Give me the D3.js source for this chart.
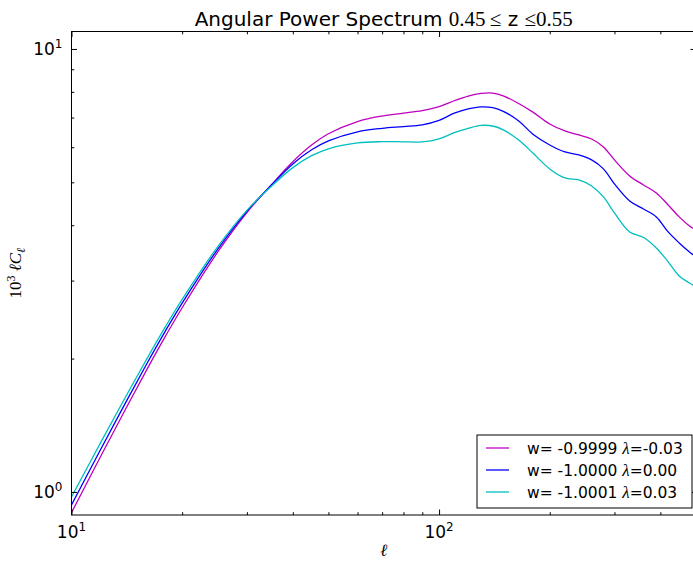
<!DOCTYPE html>
<html>
<head>
<meta charset="utf-8">
<script src="https://cdn.jsdelivr.net/npm/d3@7"></script>
<style>
  body { margin: 0; background: #fff; }
  svg { display: block; }
</style>
</head>
<body>
<div id="chart"></div>
<script>
// multipoles
var ell = [10, 12, 14, 16, 18, 20, 25, 30, 35, 40, 45, 50, 60, 70, 80, 90, 100, 110, 120, 130,
           140, 150, 165, 180, 200, 220, 240, 260, 280, 300, 330, 360, 390, 420, 450, 480, 500];

// 10^3 l C_l for each model
var clMagenta = [0.898, 1.202, 1.533, 1.884, 2.245, 2.605, 3.481, 4.274, 4.940, 5.566, 6.068, 6.436, 6.858, 7.057, 7.161, 7.260, 7.410, 7.640, 7.830, 7.935,
                 7.950, 7.830, 7.520, 7.200, 6.772, 6.529, 6.395, 6.263, 6.008, 5.617, 5.168, 4.932, 4.732, 4.445, 4.177, 3.985, 3.903];
var clBlue = [0.935, 1.247, 1.585, 1.942, 2.307, 2.669, 3.534, 4.300, 4.930, 5.500, 5.920, 6.200, 6.500, 6.620, 6.680, 6.740, 6.900, 7.160, 7.320, 7.400,
              7.370, 7.220, 6.870, 6.420, 6.071, 5.854, 5.764, 5.617, 5.361, 4.958, 4.539, 4.353, 4.177, 3.863, 3.649, 3.482, 3.393];
var clCyan = [0.974, 1.292, 1.634, 1.992, 2.358, 2.720, 3.580, 4.322, 4.900, 5.396, 5.742, 5.952, 6.136, 6.176, 6.172, 6.170, 6.270, 6.470, 6.617, 6.720,
              6.700, 6.560, 6.220, 5.820, 5.361, 5.115, 5.062, 4.906, 4.634, 4.264, 3.863, 3.754, 3.555, 3.306, 3.073, 2.963, 2.902];

var seriesNames = ["w= -0.9999 ", "w= -1.0000 ", "w= -1.0001 "];
var lambdaLabels = ["=-0.03", "=0.00", "=0.03"];
var seriesColors = ["#bf00bf", "#0000ff", "#00bfbf"];
var seriesValues = [clMagenta, clBlue, clCyan];

var xMajor = [10, 100];
var xMinor = [20, 30, 40, 50, 60, 70, 80, 90, 200, 300, 400, 500];
var yMajor = [1, 10];
var yMinor = [2, 3, 4, 5, 6, 7, 8, 9];

var width = 693, height = 561;
var axL = 71.5, axR = 696, axT = 31.5, axB = 515;

var sans = "'DejaVu Sans', sans-serif";
var serif = "'Liberation Serif', 'DejaVu Serif', serif";

var svg = d3.select("#chart").append("svg")
    .attr("width", width)
    .attr("height", height);

var x = d3.scaleLog().domain([10, 500]).range([axL, axR]);
var y = d3.scaleLog().domain([0.887, 10.95]).range([axB, axT]);

svg.append("defs").append("clipPath").attr("id", "clip")
    .append("rect")
    .attr("x", axL).attr("y", axT)
    .attr("width", axR - axL).attr("height", axB - axT);

// curves
var line = d3.line()
    .x(function (d) { return x(d[0]); })
    .y(function (d) { return y(d[1]); })
    .curve(d3.curveCatmullRom.alpha(0.5));

var plot = svg.append("g").attr("clip-path", "url(#clip)");
seriesValues.forEach(function (vals, i) {
    plot.append("path")
        .datum(ell.map(function (l, j) { return [l, vals[j]]; }))
        .attr("fill", "none")
        .attr("stroke", seriesColors[i])
        .attr("stroke-width", 1.3)
        .attr("d", line);
});

// inward ticks on all four sides
function ticks(axis, vals, size, transform) {
    var g = svg.append("g")
        .attr("transform", transform)
        .call(axis.tickValues(vals).tickSize(-size).tickSizeOuter(0).tickFormat(""));
    g.select(".domain").remove();
    g.selectAll("line").attr("stroke", "#000").attr("stroke-width", 1);
}
ticks(d3.axisBottom(x), xMajor, 5.5, "translate(0," + axB + ")");
ticks(d3.axisBottom(x), xMinor, 2.8, "translate(0," + axB + ")");
ticks(d3.axisTop(x), xMajor, 5.5, "translate(0," + axT + ")");
ticks(d3.axisTop(x), xMinor, 2.8, "translate(0," + axT + ")");
ticks(d3.axisLeft(y), yMajor, 5.5, "translate(" + axL + ",0)");
ticks(d3.axisLeft(y), yMinor, 2.8, "translate(" + axL + ",0)");
ticks(d3.axisRight(y), yMajor, 5.5, "translate(" + axR + ",0)");
ticks(d3.axisRight(y), yMinor, 2.8, "translate(" + axR + ",0)");

// frame
svg.append("rect")
    .attr("x", axL).attr("y", axT)
    .attr("width", axR - axL).attr("height", axB - axT)
    .attr("fill", "none")
    .attr("stroke", "#000")
    .attr("stroke-width", 1);

// tick labels as 10^n
xMajor.forEach(function (v) {
    var t = svg.append("text")
        .attr("x", x(v))
        .attr("y", axB + 23)
        .attr("text-anchor", "middle")
        .attr("font-family", sans)
        .attr("font-size", 17);
    t.append("tspan").text("10");
    t.append("tspan").attr("dy", -7).attr("font-size", 12).text(Math.round(Math.log10(v)));
});
yMajor.forEach(function (v) {
    var t = svg.append("text")
        .attr("x", axL - 9)
        .attr("y", y(v) + 6)
        .attr("text-anchor", "end")
        .attr("font-family", sans)
        .attr("font-size", 17);
    t.append("tspan").text("10");
    t.append("tspan").attr("dy", -7).attr("font-size", 12).text(Math.round(Math.log10(v)));
});

// title
var title = svg.append("text")
    .attr("x", (axL + axR) / 2)
    .attr("y", 26)
    .attr("text-anchor", "middle")
    .attr("font-family", sans)
    .attr("font-size", 20);
title.append("tspan").text("Angular Power Spectrum ");
title.append("tspan").attr("font-family", serif).attr("font-size", 21).text("0.45\u2009\u2264");
title.append("tspan").text(" z  ");
title.append("tspan").attr("font-family", serif).attr("font-size", 21).text("\u22640.55");

// axis labels
svg.append("text")
    .attr("x", (axL + axR) / 2)
    .attr("y", 556)
    .attr("text-anchor", "middle")
    .attr("font-family", serif)
    .attr("font-style", "italic")
    .attr("font-size", 17)
    .text("\u2113");

var ylab = svg.append("text")
    .attr("transform", "translate(21," + ((axT + axB) / 2) + ") rotate(-90)")
    .attr("text-anchor", "middle")
    .attr("font-family", serif)
    .attr("font-size", 17);
ylab.append("tspan").text("10");
ylab.append("tspan").attr("dy", -6).attr("font-size", 12).text("3");
ylab.append("tspan").attr("dy", 6).attr("font-style", "italic").text(" \u2113C");
ylab.append("tspan").attr("dy", 4).attr("font-size", 12).attr("font-style", "italic").text("\u2113");

// legend
var legend = svg.append("g");
legend.append("rect")
    .attr("x", 477).attr("y", 435)
    .attr("width", 215).attr("height", 73)
    .attr("fill", "#fff")
    .attr("stroke", "#000")
    .attr("stroke-width", 1);
seriesNames.forEach(function (name, i) {
    var ly = 448 + i * 22;
    legend.append("line")
        .attr("x1", 486).attr("x2", 509)
        .attr("y1", ly).attr("y2", ly)
        .attr("stroke", seriesColors[i])
        .attr("stroke-width", 1.3);
    var t = legend.append("text")
        .attr("x", 527)
        .attr("y", ly + 5.5)
        .attr("font-family", sans)
        .attr("font-size", 15.5);
    t.append("tspan").text(name);
    t.append("tspan").attr("font-family", serif).attr("font-style", "italic").attr("font-size", 17).text("\u03bb");
    t.append("tspan").text(lambdaLabels[i]);
});
</script>
</body>
</html>
